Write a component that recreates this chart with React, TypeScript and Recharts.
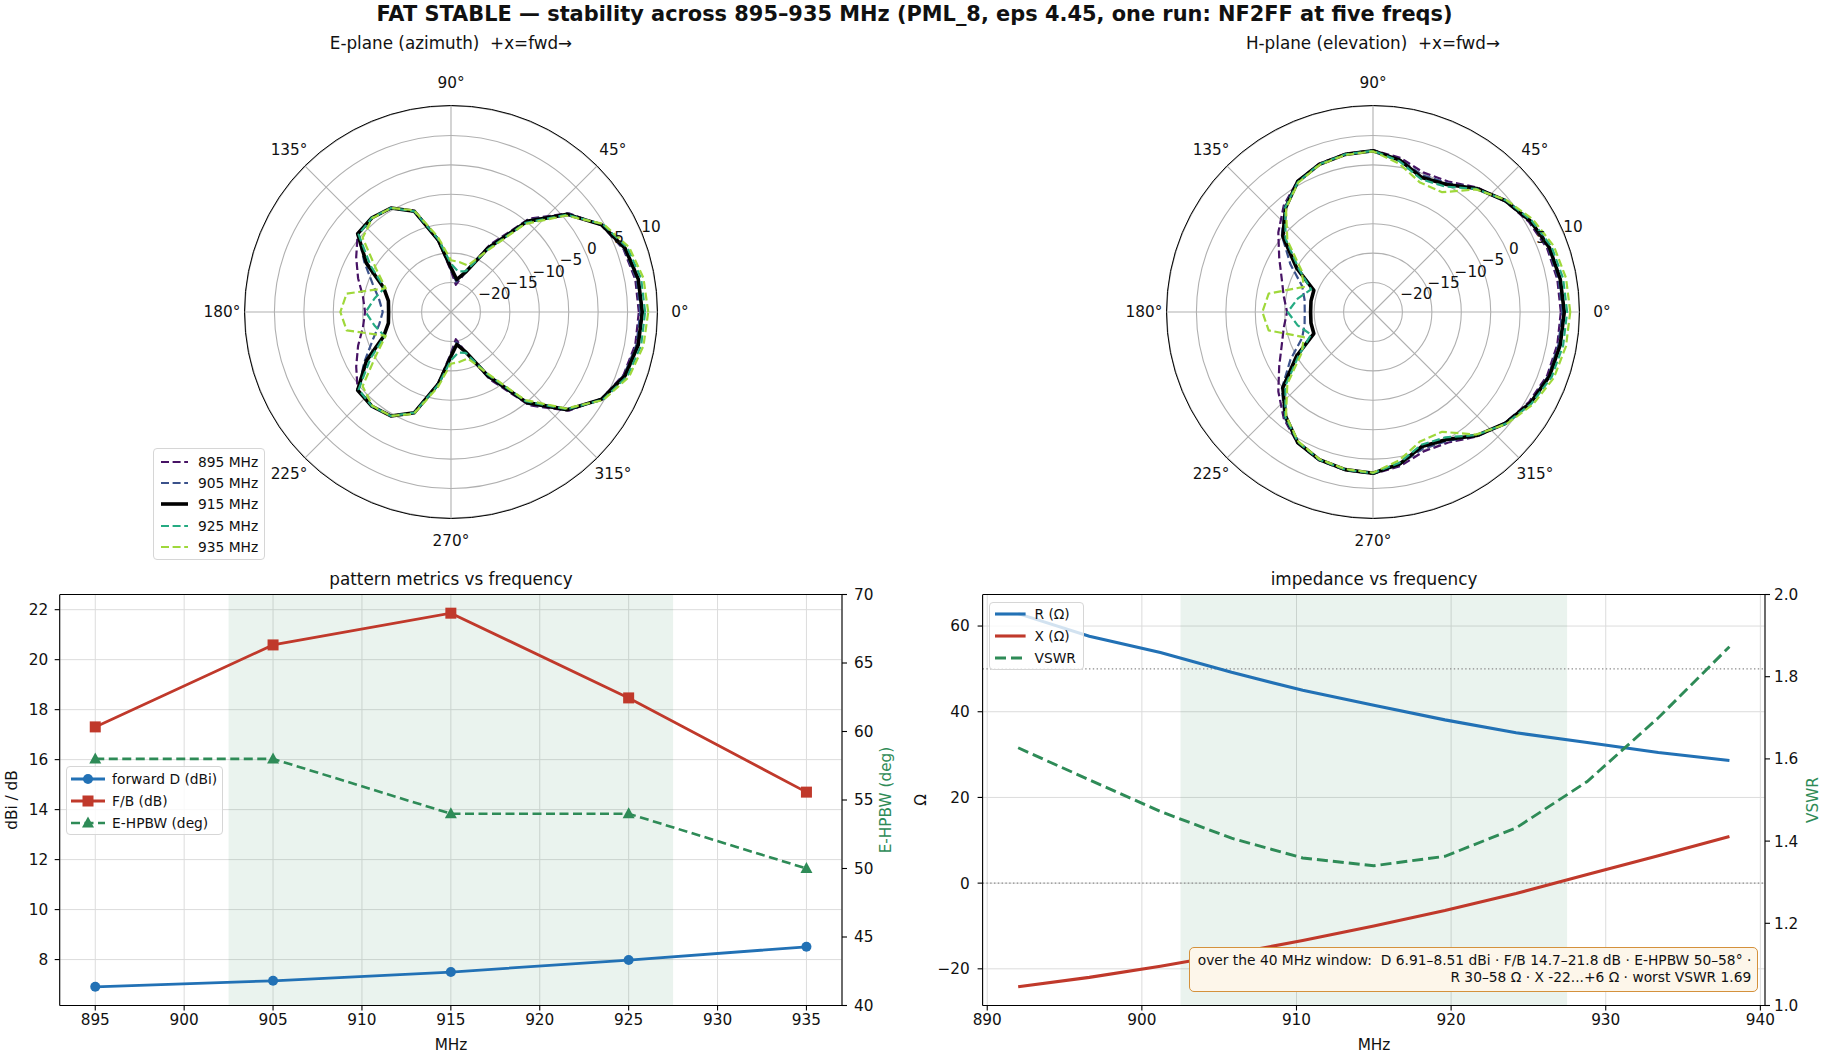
import React from "react";
import {
  RadarChart,
  Radar,
  PolarGrid,
  PolarAngleAxis,
  PolarRadiusAxis,
  LineChart,
  Line,
  XAxis,
  YAxis,
  CartesianGrid,
  ReferenceArea,
  ReferenceLine,
} from "recharts";

const FONT = '"DejaVu Sans", Verdana, sans-serif';
const INK = "#111111";
const BLUE = "#2271b5";
const RED = "#c0392b";
const GREEN = "#2e8b57";

// pattern cuts in dBi, every 10 deg from +x (fwd), counter-clockwise
const ANGLES = [
  0, 10, 20, 30, 40, 50, 60, 70, 80, 90, 100, 110, 120, 130, 140, 150, 160, 170,
  180, 190, 200, 210, 220, 230, 240, 250, 260, 270, 280, 290, 300, 310, 320, 330, 340, 350,
];

const E_895 = [6.91, 6.8, 6.2, 4.5, 1.1, -4.3, -11.8, -17.8, -20.3, -18.0, -12.8, -6.8, -4.6, -4.1, -4.3, -6.4, -8.2, -9.8, -10.4, -9.8, -8.2, -6.4, -4.3, -4.1, -4.6, -6.8, -12.8, -18.0, -20.3, -17.8, -11.8, -4.3, 1.1, 4.5, 6.2, 6.8];
const E_905 = [7.15, 7.0, 6.3, 4.5, 1.0, -4.6, -12.2, -17.8, -19.8, -17.8, -12.7, -6.8, -4.6, -4.1, -4.4, -8.0, -10.8, -12.6, -13.4, -12.6, -10.8, -8.0, -4.4, -4.1, -4.6, -6.8, -12.7, -17.8, -19.8, -17.8, -12.2, -4.6, 1.0, 4.5, 6.3, 7.0];
const E_915 = [7.5, 7.3, 6.5, 4.6, 0.8, -4.9, -12.5, -17.8, -19.4, -17.5, -12.6, -6.8, -4.6, -4.1, -4.3, -8.4, -12.8, -14.2, -14.4, -14.2, -12.8, -8.4, -4.3, -4.1, -4.6, -6.8, -12.6, -17.5, -19.4, -17.8, -12.5, -4.9, 0.8, 4.6, 6.5, 7.3];
const E_925 = [7.98, 7.8, 6.9, 4.8, 0.7, -5.2, -12.9, -17.6, -18.0, -16.8, -12.4, -6.8, -4.6, -4.1, -4.5, -9.2, -13.0, -11.8, -10.5, -11.8, -13.0, -9.2, -4.5, -4.1, -4.6, -6.8, -12.4, -16.8, -18.0, -17.6, -12.9, -5.2, 0.7, 4.8, 6.9, 7.8];
const E_935 = [8.51, 8.2, 7.2, 4.9, 0.5, -5.5, -13.2, -16.6, -16.4, -16.2, -12.0, -6.6, -4.6, -4.2, -5.4, -10.3, -13.2, -7.0, -6.2, -7.0, -13.2, -10.3, -5.4, -4.2, -4.6, -6.6, -12.0, -16.2, -16.4, -16.6, -13.2, -5.5, 0.5, 4.9, 7.2, 8.2];

const H_895 = [6.91, 6.8, 6.5, 5.6, 4.3, 2.6, 0.6, 0.2, 1.6, 2.5, 2.3, 1.8, 0.7, -1.4, -4.0, -6.6, -8.5, -9.6, -10.4, -9.6, -8.5, -6.6, -4.0, -1.4, 0.7, 1.8, 2.3, 2.5, 1.6, 0.2, 0.6, 2.6, 4.3, 5.6, 6.5, 6.8];
const H_905 = [7.15, 7.0, 6.7, 5.8, 4.3, 2.4, 0.3, -0.3, 1.3, 2.4, 2.2, 1.7, 0.6, -1.6, -4.8, -8.8, -12.2, -13.2, -13.4, -13.2, -12.2, -8.8, -4.8, -1.6, 0.6, 1.7, 2.2, 2.4, 1.3, -0.3, 0.3, 2.4, 4.3, 5.8, 6.7, 7.0];
const H_915 = [7.5, 7.3, 6.9, 5.9, 4.4, 2.4, 0.0, -0.7, 1.2, 2.4, 2.2, 1.7, 0.6, -1.9, -5.0, -10.0, -14.3, -14.3, -14.4, -14.3, -14.3, -10.0, -5.0, -1.9, 0.6, 1.7, 2.2, 2.4, 1.2, -0.7, 0.0, 2.4, 4.4, 5.9, 6.9, 7.3];
const H_925 = [7.98, 7.8, 7.3, 6.1, 4.5, 2.3, -0.4, -1.0, 1.0, 2.4, 2.2, 1.7, 0.5, -1.8, -5.6, -10.5, -13.8, -12.0, -10.5, -12.0, -13.8, -10.5, -5.6, -1.8, 0.5, 1.7, 2.2, 2.4, 1.0, -1.0, -0.4, 2.3, 4.5, 6.1, 7.3, 7.8];
const H_935 = [8.51, 8.3, 7.7, 6.4, 4.6, 2.2, -1.5, -1.6, 0.6, 2.3, 2.1, 1.6, 0.4, -2.0, -6.0, -11.0, -12.5, -7.0, -6.2, -7.0, -12.5, -11.0, -6.0, -2.0, 0.4, 1.6, 2.1, 2.3, 0.6, -1.6, -1.5, 2.2, 4.6, 6.4, 7.7, 8.3];

const ANGLE_TICKS = [0, 45, 90, 135, 180, 225, 270, 315];
const RADIUS_TICKS = [-20, -15, -10, -5, 0, 5, 10];

// pattern metrics at the five NF2FF frequencies
const METRIC_FREQS = [895, 905, 915, 925, 935];
const FORWARD_D = [6.91, 7.15, 7.5, 7.98, 8.51];
const FRONT_TO_BACK = [17.31, 20.59, 21.86, 18.47, 14.7];
const E_HPBW = [58, 58, 54, 54, 50];
const METRIC_TICKS = [895, 900, 905, 910, 915, 920, 925, 930, 935];

// impedance sweep
const Z_FREQS = [892, 896.6, 901.2, 905.8, 910.4, 915, 919.6, 924.2, 928.8, 933.4, 938];
const R_OHM = [62.9, 57.6, 53.8, 49.2, 45.0, 41.5, 38.1, 35.1, 32.8, 30.5, 28.6];
const X_OHM = [-24.2, -22.0, -19.4, -16.5, -13.4, -10.0, -6.4, -2.4, 2.0, 6.4, 10.9];
const VSWR = [1.627, 1.549, 1.472, 1.407, 1.359, 1.34, 1.363, 1.432, 1.545, 1.7, 1.873];
const Z_TICKS = [890, 900, 910, 920, 930, 940];

const PATTERN_SERIES = [
  { key: "f895", label: "895 MHz", color: "#471365", width: 2.2, dash: "8 3.6" },
  { key: "f905", label: "905 MHz", color: "#3b528b", width: 2.2, dash: "8 3.6" },
  { key: "f915", label: "915 MHz", color: "#000000", width: 3.6, dash: undefined },
  { key: "f925", label: "925 MHz", color: "#25ab82", width: 2.2, dash: "8 3.6" },
  { key: "f935", label: "935 MHz", color: "#9fd83a", width: 2.2, dash: "8 3.6" },
];

function patternRows(cuts: number[][]) {
  return ANGLES.map((angle, i) => ({
    angle,
    f895: cuts[0][i],
    f905: cuts[1][i],
    f915: cuts[2][i],
    f925: cuts[3][i],
    f935: cuts[4][i],
  }));
}

const E_ROWS = patternRows([E_895, E_905, E_915, E_925, E_935]);
const H_ROWS = patternRows([H_895, H_905, H_915, H_925, H_935]);

const metricRows = METRIC_FREQS.map((f, i) => ({
  f,
  d: FORWARD_D[i],
  fb: FRONT_TO_BACK[i],
  hpbw: E_HPBW[i],
}));

const zRows = Z_FREQS.map((f, i) => ({ f, r: R_OHM[i], x: X_OHM[i], vswr: VSWR[i] }));

const minus = (v: number) => (v < 0 ? `\u2212${Math.abs(v)}` : `${v}`);

const TICK = { fontSize: 15.3, fill: INK, fontFamily: FONT };
const POLAR_R = 206;

const renderAngleTick = (p: any) => (
  <text x={p.x} y={p.y} textAnchor="middle" dominantBaseline="central" fontSize={15.3} fill={INK} fontFamily={FONT}>
    {`${p.payload.value}°`}
  </text>
);

const renderRadiusTick = (p: any) => {
  const v = p.payload.value;
  if (v <= -25) return <g />;
  return (
    <text x={p.x} y={p.y - 1.5} textAnchor="start" fontSize={15.3} fill={INK} fontFamily={FONT}>
      {minus(v)}
    </text>
  );
};

function PolarPanel({ cx, cy, rows }: { cx: number; cy: number; rows: any[] }) {
  const size = 520;
  return (
    <div style={{ position: "absolute", left: cx - size / 2, top: cy - size / 2, width: size, height: size }}>
      <RadarChart
        width={size}
        height={size}
        cx={size / 2}
        cy={size / 2}
        outerRadius={POLAR_R}
        startAngle={0}
        endAngle={360}
        data={rows}
        margin={{ top: 0, right: 0, bottom: 0, left: 0 }}
      >
        <PolarGrid gridType="circle" stroke="#b0b0b0" strokeWidth={1.1} />
        <PolarAngleAxis
          dataKey="angle"
          type="number"
          domain={[0, 360]}
          ticks={ANGLE_TICKS as any}
          tickCount={9}
          tickSize={23}
          axisLine={false}
          tickLine={false}
          tick={renderAngleTick}
        />
        <PolarRadiusAxis
          angle={22.5}
          type="number"
          domain={[-25, 10]}
          ticks={RADIUS_TICKS as any}
          tickCount={8}
          axisLine={false}
          tickLine={false}
          tick={renderRadiusTick}
        />
        {PATTERN_SERIES.map((s) => (
          <Radar
            key={s.key}
            dataKey={s.key}
            stroke={s.color}
            strokeWidth={s.width}
            strokeDasharray={s.dash}
            strokeLinejoin="round"
            fill="none"
            fillOpacity={0}
            dot={false}
            isAnimationActive={false}
          />
        ))}
      </RadarChart>
      <div
        style={{
          position: "absolute",
          left: size / 2 - POLAR_R - 0.6,
          top: size / 2 - POLAR_R - 0.6,
          width: 2 * POLAR_R + 1.2,
          height: 2 * POLAR_R + 1.2,
          borderRadius: "50%",
          border: "1.2px solid #000",
          boxSizing: "border-box",
          pointerEvents: "none",
        }}
      />
    </div>
  );
}

function Label({ x, y, text, size = 15.3, weight = 400, color = INK, rotate = false }: any) {
  return (
    <div
      style={{
        position: "absolute",
        left: x,
        top: y,
        transform: `translate(-50%, -50%)${rotate ? " rotate(-90deg)" : ""}`,
        fontSize: size,
        fontWeight: weight,
        color,
        whiteSpace: "pre",
        lineHeight: 1,
      }}
    >
      {text}
    </div>
  );
}

type LegendItem = { label: string; color: string; width: number; dash?: string; marker?: string };

function Sample({ item, w }: { item: LegendItem; w: number }) {
  const m = w / 2;
  return (
    <svg width={w} height={14} style={{ display: "block", flex: "none" }}>
      <line x1={0} y1={7} x2={w} y2={7} stroke={item.color} strokeWidth={item.width} strokeDasharray={item.dash} />
      {item.marker === "circle" && <circle cx={m} cy={7} r={5} fill={item.color} />}
      {item.marker === "square" && <rect x={m - 5.5} y={1.5} width={11} height={11} fill={item.color} />}
      {item.marker === "triangle" && <polygon points={`${m},0.5 ${m - 6},11.5 ${m + 6},11.5`} fill={item.color} />}
    </svg>
  );
}

function LegendBox({ left, top, width, height, rowH, padTop, padLeft, sampleW, gap, items }: any) {
  return (
    <div
      style={{
        position: "absolute",
        left,
        top,
        width,
        height,
        boxSizing: "border-box",
        background: "rgba(255,255,255,0.8)",
        border: "1px solid #d6d6d6",
        borderRadius: 4,
        paddingTop: padTop,
        paddingLeft: padLeft,
        fontSize: 13.8,
      }}
    >
      {items.map((it: LegendItem) => (
        <div key={it.label} style={{ height: rowH, display: "flex", alignItems: "center" }}>
          <Sample item={it} w={sampleW} />
          <span style={{ marginLeft: gap, whiteSpace: "pre" }}>{it.label}</span>
        </div>
      ))}
    </div>
  );
}

const squareDot = (p: any) => (
  <rect key={`sq-${p.index}`} x={p.cx - 5.5} y={p.cy - 5.5} width={11} height={11} fill={RED} />
);
const triangleDot = (p: any) => (
  <polygon
    key={`tr-${p.index}`}
    points={`${p.cx},${p.cy - 6.5} ${p.cx - 6},${p.cy + 4.5} ${p.cx + 6},${p.cy + 4.5}`}
    fill={GREEN}
  />
);

const axisLine = { stroke: "#000", strokeWidth: 1.1 };
const tickLine = { stroke: "#000", strokeWidth: 1.1 };

function MetricsChart() {
  return (
    <div style={{ position: "absolute", left: 0, top: 570, width: 900, height: 480 }}>
      <LineChart width={900} height={480} data={metricRows} margin={{ top: 24.5, right: 0, bottom: 0, left: 0 }}>
        <CartesianGrid yAxisId="left" stroke="#dcdcdc" strokeWidth={1} />
        <ReferenceArea yAxisId="left" x1={902.5} x2={927.5} fill={GREEN} fillOpacity={0.1} stroke="none" />
        <XAxis
          dataKey="f"
          type="number"
          domain={[893, 937]}
          ticks={METRIC_TICKS}
          interval={0}
          allowDataOverflow
          height={44.5}
          tickSize={5}
          tickMargin={4}
          tick={TICK}
          axisLine={axisLine}
          tickLine={tickLine}
        />
        <YAxis
          yAxisId="left"
          domain={[6.1625, 22.6075]}
          ticks={[8, 10, 12, 14, 16, 18, 20, 22]}
          interval={0}
          allowDataOverflow
          width={59.7}
          tickSize={5}
          tickMargin={6.4}
          tick={TICK}
          axisLine={axisLine}
          tickLine={tickLine}
        />
        <YAxis
          yAxisId="right"
          orientation="right"
          domain={[40, 70]}
          ticks={[40, 45, 50, 55, 60, 65, 70]}
          interval={0}
          allowDataOverflow
          width={58}
          tickSize={5}
          tickMargin={7}
          tick={TICK}
          axisLine={axisLine}
          tickLine={tickLine}
        />
        <Line
          yAxisId="left"
          dataKey="d"
          stroke={BLUE}
          strokeWidth={2.8}
          dot={{ r: 5, fill: BLUE, stroke: BLUE, strokeWidth: 0 }}
          isAnimationActive={false}
        />
        <Line yAxisId="left" dataKey="fb" stroke={RED} strokeWidth={2.8} dot={squareDot} isAnimationActive={false} />
        <Line
          yAxisId="right"
          dataKey="hpbw"
          stroke={GREEN}
          strokeWidth={2.6}
          strokeDasharray="9 4.5"
          dot={triangleDot}
          isAnimationActive={false}
        />
      </LineChart>
    </div>
  );
}

function ImpedanceChart() {
  return (
    <div style={{ position: "absolute", left: 900, top: 570, width: 929, height: 480 }}>
      <LineChart width={929} height={480} data={zRows} margin={{ top: 24.5, right: 0, bottom: 0, left: 0 }}>
        <CartesianGrid yAxisId="left" stroke="#dcdcdc" strokeWidth={1} />
        <ReferenceArea yAxisId="left" x1={902.5} x2={927.5} fill={GREEN} fillOpacity={0.1} stroke="none" />
        <XAxis
          dataKey="f"
          type="number"
          domain={[889.7, 940.3]}
          ticks={Z_TICKS}
          interval={0}
          allowDataOverflow
          height={44.5}
          tickSize={5}
          tickMargin={4}
          tick={TICK}
          axisLine={axisLine}
          tickLine={tickLine}
        />
        <YAxis
          yAxisId="left"
          domain={[-28.56, 67.36]}
          ticks={[-20, 0, 20, 40, 60]}
          interval={0}
          allowDataOverflow
          width={82.6}
          tickSize={5}
          tickMargin={7.8}
          tick={TICK}
          tickFormatter={minus}
          axisLine={axisLine}
          tickLine={tickLine}
        />
        <YAxis
          yAxisId="right"
          orientation="right"
          domain={[1, 2]}
          ticks={[1.0, 1.2, 1.4, 1.6, 1.8, 2.0]}
          interval={0}
          allowDataOverflow
          width={64}
          tickSize={5}
          tickMargin={4}
          tick={TICK}
          tickFormatter={(v: number) => v.toFixed(1)}
          axisLine={axisLine}
          tickLine={tickLine}
        />
        <ReferenceLine yAxisId="left" y={50} stroke="#8c8c8c" strokeWidth={1.3} strokeDasharray="1.4 2.4" />
        <ReferenceLine yAxisId="left" y={0} stroke="#8c8c8c" strokeWidth={1.3} strokeDasharray="1.4 2.4" />
        <Line yAxisId="left" dataKey="r" stroke={BLUE} strokeWidth={3.1} dot={false} isAnimationActive={false} />
        <Line yAxisId="left" dataKey="x" stroke={RED} strokeWidth={3.1} dot={false} isAnimationActive={false} />
        <Line
          yAxisId="right"
          dataKey="vswr"
          stroke={GREEN}
          strokeWidth={2.9}
          strokeDasharray="11 5"
          dot={false}
          isAnimationActive={false}
        />
      </LineChart>
    </div>
  );
}

export default function App() {
  const patternLegend: LegendItem[] = PATTERN_SERIES.map((s) => ({
    label: s.label,
    color: s.color,
    width: s.width,
    dash: s.dash,
  }));
  return (
    <div
      style={{
        position: "absolute",
        left: 0,
        top: 0,
        width: 1829,
        height: 1062,
        background: "#fff",
        fontFamily: FONT,
        color: INK,
        overflow: "hidden",
      }}
    >
      <Label
        x={914.5}
        y={14}
        size={20.9}
        weight={700}
        text="FAT STABLE — stability across 895–935 MHz (PML_8, eps 4.45, one run: NF2FF at five freqs)"
      />
      <Label x={451} y={43} size={16.8} text="E-plane (azimuth)  +x=fwd→" />
      <Label x={1373} y={43} size={16.8} text="H-plane (elevation)  +x=fwd→" />

      <PolarPanel cx={451} cy={312} rows={E_ROWS} />
      <PolarPanel cx={1373} cy={312} rows={H_ROWS} />

      <LegendBox
        left={153}
        top={448}
        width={112}
        height={112}
        rowH={21.4}
        padTop={2}
        padLeft={7}
        sampleW={27}
        gap={10}
        items={patternLegend}
      />

      <Label x={451} y={579} size={16.8} text="pattern metrics vs frequency" />
      <Label x={1374} y={579} size={16.8} text="impedance vs frequency" />

      <MetricsChart />
      <ImpedanceChart />

      <div style={{ position: "absolute", left: 59.7, top: 594, width: 782.3, height: 1.1, background: "#000" }} />
      <div style={{ position: "absolute", left: 982.6, top: 594, width: 782.4, height: 1.1, background: "#000" }} />

      <LegendBox
        left={66.3}
        top={766}
        width={157.2}
        height={69}
        rowH={22}
        padTop={0.5}
        padLeft={4}
        sampleW={34}
        gap={6.8}
        items={[
          { label: "forward D (dBi)", color: BLUE, width: 2.8, marker: "circle" },
          { label: "F/B (dB)", color: RED, width: 2.8, marker: "square" },
          { label: "E-HPBW (deg)", color: GREEN, width: 2.6, dash: "9 4.5", marker: "triangle" },
        ]}
      />
      <LegendBox
        left={989.2}
        top={602}
        width={94.4}
        height={68}
        rowH={21.7}
        padTop={0.5}
        padLeft={5}
        sampleW={30.6}
        gap={8.7}
        items={[
          { label: "R (Ω)", color: BLUE, width: 3.1 },
          { label: "X (Ω)", color: RED, width: 3.1 },
          { label: "VSWR", color: GREEN, width: 2.9, dash: "11 5" },
        ]}
      />

      <Label x={12.5} y={800} rotate text="dBi / dB" />
      <Label x={887} y={800} rotate color={GREEN} text="E-HPBW (deg)" />
      <Label x={451} y={1046} text="MHz" />
      <Label x={922} y={800} rotate text="Ω" />
      <Label x={1814} y={800} rotate color={GREEN} text="VSWR" />
      <Label x={1374} y={1046} text="MHz" />

      <div
        style={{
          position: "absolute",
          right: 70.7,
          top: 947,
          padding: "4px 6px 5px 8px",
          background: "#fdf6ea",
          border: "1.3px solid #d4913c",
          borderRadius: 5,
          fontSize: 13.8,
          lineHeight: "17px",
          textAlign: "right",
          whiteSpace: "pre",
        }}
      >
        {"over the 40 MHz window:  D 6.91–8.51 dBi · F/B 14.7–21.8 dB · E-HPBW 50–58° ·\nR 30–58 Ω · X -22...+6 Ω · worst VSWR 1.69"}
      </div>
    </div>
  );
}
